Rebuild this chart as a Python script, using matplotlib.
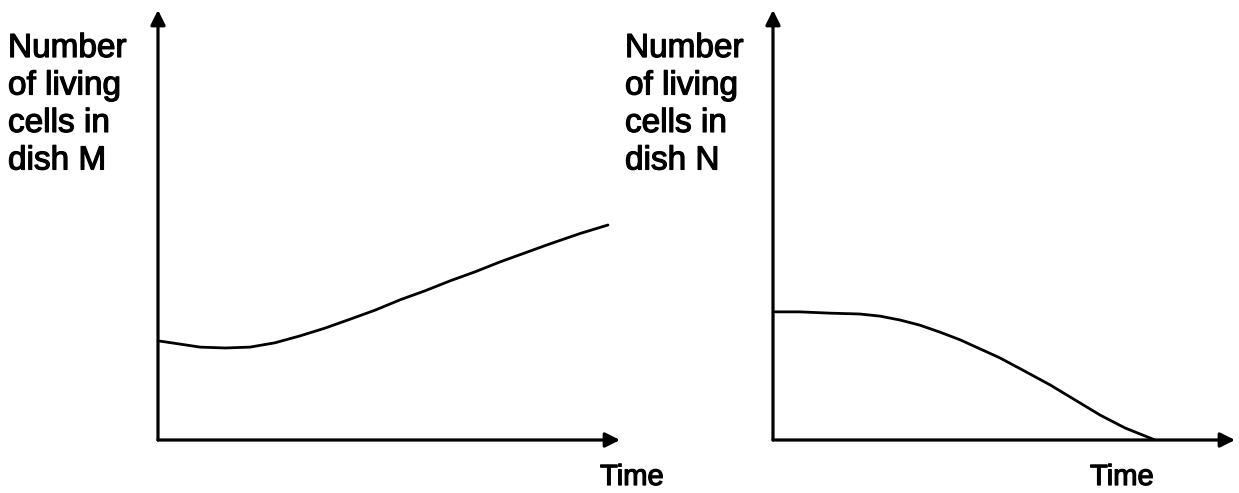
import matplotlib.pyplot as plt
import matplotlib.patheffects as pe

plt.rcParams['font.family'] = ['Liberation Sans', 'DejaVu Sans']

# dish M: number of living cells against time (arbitrary units)
time_m = [0.4, 4.8, 9.1, 14.5, 19.9, 25.3, 30.7, 36.1, 41.6, 47.0, 52.4,
          57.8, 63.2, 68.6, 74.0, 79.4, 84.8, 91.3, 97.4]
cells_m = [23.0, 22.3, 21.6, 21.4, 21.6, 22.6, 24.2, 26.0, 28.1, 30.2, 32.6,
           34.7, 37.0, 39.1, 41.4, 43.5, 45.6, 48.0, 50.0]

# dish N
time_n = [0.4, 5.8, 12.3, 18.8, 23.2, 27.5, 31.8, 36.1, 40.5, 44.8, 49.1,
          54.5, 60.0, 65.4, 70.8, 76.2, 82.7]
cells_n = [29.8, 29.8, 29.5, 29.3, 28.8, 27.9, 26.7, 25.1, 23.3, 21.2, 19.1,
           16.0, 12.8, 9.3, 5.8, 2.8, 0.0]

ylabels = ['Number\nof living\ncells in\ndish M', 'Number\nof living\ncells in\ndish N']

W, H = 1239, 493
fig = plt.figure(figsize=(W / 100, H / 100), dpi=100)
heavy = [pe.withStroke(linewidth=0.9, foreground='black')]

panels = [(158, time_m, cells_m, 8, 600), (773, time_n, cells_n, 625, 1090)]

for i, (x0, t, c, lx, tx) in enumerate(panels):
    ax = fig.add_axes([x0 / W, 53 / H, 462 / W, 430 / H])
    ax.set_xlim(0, 100)
    ax.set_ylim(0, 100)
    ax.axis('off')
    ax.plot(t, c, color='black', lw=2.0, solid_capstyle='round',
            solid_joinstyle='round')
    arrow = dict(arrowstyle='-|>', color='black', lw=2.3, mutation_scale=22,
                 shrinkA=0, shrinkB=0)
    ax.annotate('', xy=(0, 1), xytext=(0, 0), xycoords='axes fraction',
                arrowprops=arrow)
    ax.annotate('', xy=(1, 0), xytext=(0, 0), xycoords='axes fraction',
                arrowprops=arrow)
    fig.text(lx / W, 1 - 33 / H, ylabels[i], fontsize=24, va='top', ha='left',
             linespacing=1.27, path_effects=heavy)
    fig.text(tx / W, 1 - 477 / H, 'Time', fontsize=21, va='center', ha='left',
             path_effects=heavy)

fig.savefig('out.png', dpi=100)
